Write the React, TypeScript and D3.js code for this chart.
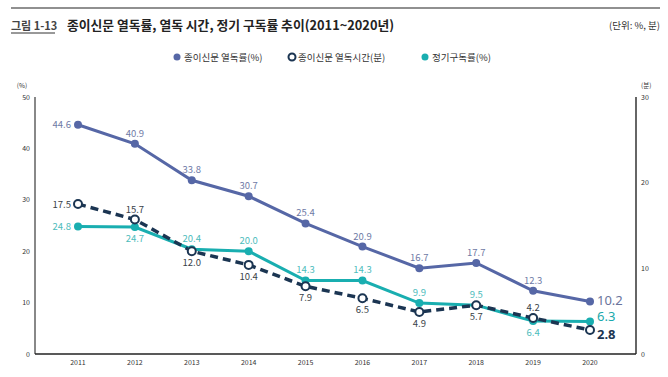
import React from "react";
import * as d3 from "d3";

const years = ["2011","2012","2013","2014","2015","2016","2017","2018","2019","2020"];
const paperRate = [44.6, 40.9, 33.8, 30.7, 25.4, 20.9, 16.7, 17.7, 12.3, 10.2];
const readingTime = [17.5, 15.7, 12.0, 10.4, 7.9, 6.5, 4.9, 5.7, 4.2, 2.8];
const subscription = [24.8, 24.7, 20.4, 20.0, 14.3, 14.3, 9.9, 9.5, 6.4, 6.3];
const leftTicks = [0, 10, 20, 30, 40, 50];
const rightTicks = [0, 10, 20, 30];
// label placement per point: l=left, a=above, b=below, r=right(end)
const paperPos = ["l","a","a","a","a","a","a","a","a","r"];
const timePos = ["l","a","b","b","b","b","b","b","a","r"];
const subPos = ["l","b","a","a","a","a","a","a","b","r"];

const C_PAPER = "#5667a6";
const C_SUB = "#19aeb0";
const C_TIME = "#1b3552";
const FONT = "'Noto Sans CJK KR', 'Noto Sans', sans-serif";

export default function App() {
  const W = 668, H = 377;
  const x = d3.scalePoint().domain(years).range([78, 590]);
  const yL = d3.scaleLinear().domain([0, 50]).range([354, 97]);
  const yR = d3.scaleLinear().domain([0, 30]).range([354, 97]);
  const line = (ys: (v: number) => number, vals: number[]) =>
    d3.line<number>().x((_, i) => x(years[i])!).y((v) => ys(v))(vals)!;

  const labels = (vals: number[], ys: (v: number) => number, pos: string[], color: string, endColor: string, endWeight: number, endDy: number) =>
    vals.map((v, i) => {
      const px = x(years[i])!, py = ys(v);
      const p = pos[i];
      if (p === "r")
        return <text key={i} x={px + 7} y={py + endDy} fontSize={13} fontFamily="'Noto Sans', sans-serif" fill={endColor} fontWeight={endWeight}>{v.toFixed(1)}</text>;
      if (p === "l")
        return <text key={i} x={px - 7} y={py + 3.5} fontSize={9.5} fill={color} textAnchor="end">{v.toFixed(1)}</text>;
      if (p === "a")
        return <text key={i} x={px} y={py - 7} fontSize={9.5} fill={color} textAnchor="middle">{v.toFixed(1)}</text>;
      return <text key={i} x={px} y={py + 15} fontSize={9.5} fill={color} textAnchor="middle">{v.toFixed(1)}</text>;
    });

  return (
    <svg width={W} height={H} style={{ position: "absolute", left: 0, top: 0, fontFamily: FONT }}>
      <rect width={W} height={H} fill="#fff" />
      <line x1={11} x2={660} y1={8} y2={8} stroke="#222" strokeWidth={1.2} />
      <text x={11} y={29.5} fontSize={11} fontWeight={700} fill="#444">그림 1-13</text>
      <line x1={11} x2={55} y1={33} y2={33} stroke="#333" strokeWidth={1} />
      <text x={67} y={30} fontSize={12.8} fontWeight={700} fill="#222">종이신문 열독률, 열독 시간, 정기 구독률 추이(2011~2020년)</text>
      <text x={660} y={29} fontSize={9.5} fill="#333" textAnchor="end">(단위: %, 분)</text>

      {/* legend */}
      <circle cx={177} cy={57} r={3.5} fill={C_PAPER} />
      <text x={184} y={60.5} fontSize={9.5} fill="#333">종이신문 열독률(%)</text>
      <circle cx={292} cy={57} r={3.5} fill="#fff" stroke={C_TIME} strokeWidth={2} />
      <text x={298} y={60.5} fontSize={9.5} fill="#333">종이신문 열독시간(분)</text>
      <circle cx={425} cy={57} r={3.5} fill={C_SUB} />
      <text x={432} y={60.5} fontSize={9.5} fill="#333">정기구독률(%)</text>

      {/* axes */}
      <line x1={35} x2={35} y1={97} y2={354} stroke="#888" strokeWidth={2} />
      <line x1={636} x2={636} y1={97} y2={354} stroke="#333" strokeWidth={1.5} />
      <line x1={35} x2={636} y1={354} y2={354} stroke="#222" strokeWidth={1.5} />
      <text x={22} y={88} fontSize={6.5} fill="#333" textAnchor="middle">(%)</text>
      {leftTicks.map((t) => (
        <text key={t} x={30} y={yL(t) + 2.5} fontSize={7} fill="#333" textAnchor="end">{t}</text>
      ))}
      <text x={641} y={88} fontSize={6.5} fill="#333">(분)</text>
      {rightTicks.map((t) => (
        <text key={t} x={641} y={yR(t) + 2.5} fontSize={7} fill="#333">{t}</text>
      ))}
      {years.map((yv) => (
        <text key={yv} x={x(yv)!} y={365} fontSize={7} fill="#333" textAnchor="middle">{yv}</text>
      ))}

      {/* lines */}
      <path d={line(yL, paperRate)} fill="none" stroke={C_PAPER} strokeWidth={3} />
      <path d={line(yL, subscription)} fill="none" stroke={C_SUB} strokeWidth={3} />
      <path d={line(yR, readingTime)} fill="none" stroke={C_TIME} strokeWidth={3.5} strokeDasharray="8,5" />

      {paperRate.map((v, i) => <circle key={i} cx={x(years[i])!} cy={yL(v)} r={4} fill={C_PAPER} />)}
      {subscription.map((v, i) => <circle key={i} cx={x(years[i])!} cy={yL(v)} r={4} fill={C_SUB} />)}
      {readingTime.map((v, i) => <circle key={i} cx={x(years[i])!} cy={yR(v)} r={4} fill="#fff" stroke={C_TIME} strokeWidth={2} />)}

      {labels(paperRate, yL, paperPos, "#6f7aa6", "#6a749c", 400, 3)}
      {labels(subscription, yL, subPos, "#4dbcbc", "#1aa9ac", 400, -0.5)}
      {labels(readingTime, yR, timePos, "#3a3f48", "#1b3552", 700, 9)}
    </svg>
  );
}
